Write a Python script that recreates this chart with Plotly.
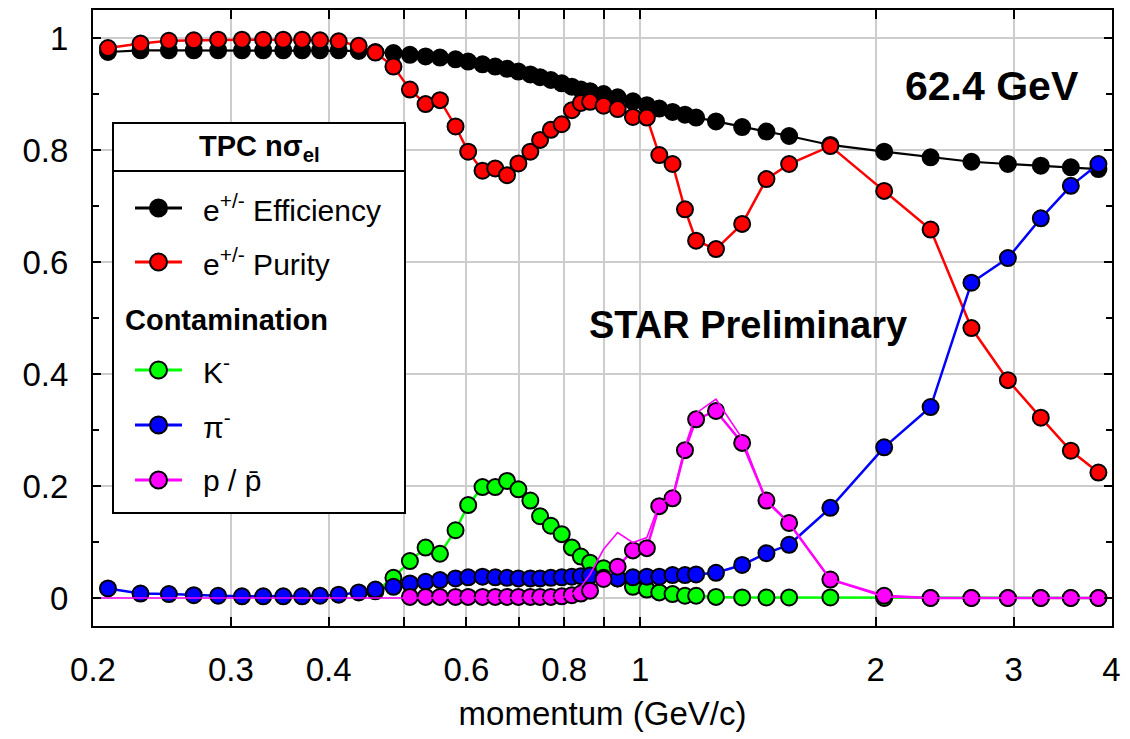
import math
import plotly.graph_objects as go

# ---------------- data ----------------
momentum = [0.209, 0.230, 0.250, 0.269, 0.289, 0.310, 0.330, 0.350, 0.370, 0.390, 0.412,
            0.437, 0.459, 0.484, 0.508, 0.532, 0.555, 0.581, 0.603, 0.629, 0.653, 0.676,
            0.699, 0.724, 0.745, 0.769, 0.794, 0.818, 0.840, 0.863,
            0.898, 0.936, 0.979, 1.020, 1.058, 1.100, 1.141, 1.179,
            1.250, 1.350, 1.450, 1.550,
            1.750, 2.050, 2.350, 2.650, 2.950, 3.250, 3.550, 3.850]

efficiency = [0.975, 0.978, 0.978, 0.978, 0.978, 0.978, 0.978, 0.978, 0.978, 0.978, 0.978,
              0.977, 0.975, 0.973, 0.970, 0.967, 0.965, 0.962, 0.958, 0.953, 0.949, 0.945,
              0.940, 0.935, 0.930, 0.925, 0.919, 0.913, 0.908, 0.905,
              0.900, 0.894, 0.887, 0.880, 0.874, 0.868, 0.863, 0.858,
              0.851, 0.841, 0.833, 0.825,
              0.809, 0.797, 0.787, 0.779, 0.775, 0.772, 0.769, 0.766]

purity = [0.982, 0.990, 0.995, 0.996, 0.997, 0.997, 0.997, 0.997, 0.997, 0.996, 0.994,
          0.986, 0.974, 0.949, 0.908, 0.882, 0.889, 0.842, 0.797, 0.763, 0.767, 0.755,
          0.776, 0.797, 0.818, 0.836, 0.846, 0.871, 0.884, 0.886,
          0.879, 0.873, 0.859, 0.858, 0.791, 0.775, 0.694, 0.638,
          0.623, 0.668, 0.748, 0.775,
          0.807, 0.727, 0.658, 0.482, 0.389, 0.322, 0.263, 0.224]

# kaon markers start at p = 0.459 (index 12 of momentum)
kaon_start = 12
kaon = [0.012, 0.036, 0.066, 0.090, 0.079, 0.121, 0.166, 0.198, 0.198, 0.209,
        0.194, 0.174, 0.146, 0.129, 0.114, 0.090, 0.074, 0.063,
        0.053, 0.035, 0.020, 0.015, 0.010, 0.007, 0.004, 0.004,
        0.002, 0.001, 0.001, 0.001,
        0.001, 0.0, 0.0, 0.0, 0.0, 0.0, 0.0, 0.0]

pion = [0.017, 0.008, 0.007, 0.005, 0.004, 0.003, 0.003, 0.003, 0.003, 0.004, 0.006,
        0.010, 0.015, 0.020, 0.026, 0.029, 0.032, 0.035, 0.037, 0.038, 0.037, 0.036,
        0.035, 0.035, 0.035, 0.036, 0.037, 0.038, 0.039, 0.040,
        0.036, 0.035, 0.037, 0.038, 0.038, 0.041, 0.041, 0.042,
        0.045, 0.059, 0.080, 0.095,
        0.161, 0.269, 0.341, 0.563, 0.607, 0.678, 0.736, 0.775]

# proton markers start at p = 0.508 (index 14 of momentum)
proton_start = 14
proton = [0.002, 0.002, 0.002, 0.002, 0.002, 0.002, 0.002, 0.002,
          0.002, 0.002, 0.002, 0.002, 0.003, 0.005, 0.008, 0.013,
          0.034, 0.056, 0.085, 0.089, 0.164, 0.178, 0.264, 0.319,
          0.334, 0.277, 0.174, 0.134,
          0.033, 0.004, 0.0, 0.0, 0.0, 0.0, 0.0, 0.0]

# thin proton curve (no markers)
proton_thin_p = [0.200] + momentum
proton_thin = [0.0,
               0.0, 0.0, 0.0, 0.0, 0.0, 0.0, 0.0, 0.0, 0.0, 0.0, 0.0,
               0.0, 0.0, 0.0, 0.0, 0.0, 0.0, 0.0, 0.0, 0.0, 0.0, 0.0,
               0.0, 0.0, 0.0, 0.0, 0.0, 0.006, 0.020, 0.042,
               0.087, 0.117, 0.099, 0.108, 0.168, 0.180, 0.270, 0.330,
               0.355, 0.285, 0.172, 0.133,
               0.033, 0.002, 0.0, 0.0, 0.0, 0.0, 0.0, 0.0]

x_tickvals = [0.2, 0.3, 0.4, 0.6, 0.8, 1, 2, 3, 4]
x_ticktext = ["0.2", "0.3", "0.4", "0.6", "0.8", "1", "2", "3", "4"]
x_minor_tickvals = [0.5, 0.7, 0.9]

series_names = ["e<sup>+/-</sup> Efficiency", "e<sup>+/-</sup> Purity",
                "K<sup>-</sup>", "\u03c0<sup>-</sup>", "p / p\u0304"]
series_colors = ["#000000", "#ff0000", "#00ff00", "#0000ff", "#ff00ff"]

# ---------------- figure ----------------
FONT = "Liberation Sans, Arial, Helvetica, sans-serif"
W, H = 1130, 739
ML, MR, MT, MB = 93, 18, 10, 113
PW, PH = W - ML - MR, H - MT - MB


def px(xpix):
    return (xpix - ML) / PW


def py(ypix):
    return (H - MB - ypix) / PH


fig = go.Figure()

mk = dict(size=16, line=dict(color="black", width=2))

fig.add_trace(go.Scatter(x=momentum, y=efficiency, mode="lines+markers",
                         line=dict(color=series_colors[0], width=2.2),
                         marker=dict(color=series_colors[0], **mk), name="eff"))
fig.add_trace(go.Scatter(x=momentum, y=purity, mode="lines+markers",
                         line=dict(color=series_colors[1], width=2.5),
                         marker=dict(color=series_colors[1], **mk), name="pur"))
fig.add_trace(go.Scatter(x=momentum[kaon_start:], y=kaon, mode="lines+markers",
                         line=dict(color=series_colors[2], width=2.5),
                         marker=dict(color=series_colors[2], **mk), name="K"))
fig.add_trace(go.Scatter(x=momentum, y=pion, mode="lines+markers",
                         line=dict(color=series_colors[3], width=2.5),
                         marker=dict(color=series_colors[3], **mk), name="pi"))
fig.add_trace(go.Scatter(x=momentum[proton_start:], y=proton, mode="lines+markers",
                         line=dict(color=series_colors[4], width=2.5),
                         marker=dict(color=series_colors[4], **mk), name="p"))
fig.add_trace(go.Scatter(x=proton_thin_p, y=proton_thin, mode="lines",
                         line=dict(color=series_colors[4], width=1.6), name="p thin"))

# horizontal reference line at 1
fig.add_shape(type="line", xref="paper", yref="y", x0=0, x1=1, y0=1, y1=1,
              line=dict(color="black", width=2), layer="between")

# ---------------- legend box (drawn manually) ----------------
shapes = []
shapes.append(dict(type="rect", xref="paper", yref="paper",
                   x0=px(113), x1=px(405), y0=py(513), y1=py(123),
                   line=dict(color="black", width=2), fillcolor="white", layer="above"))
shapes.append(dict(type="line", xref="paper", yref="paper",
                   x0=px(113), x1=px(405), y0=py(171), y1=py(171),
                   line=dict(color="black", width=2), layer="above"))
row_y = [208, 262, 370, 425, 480]
for name, col, ry in zip(series_names, series_colors, row_y):
    shapes.append(dict(type="line", xref="paper", yref="paper",
                       x0=px(135), x1=px(182), y0=py(ry), y1=py(ry),
                       line=dict(color=col, width=3), layer="above"))
    shapes.append(dict(type="circle", xref="paper", yref="paper",
                       xsizemode="pixel", ysizemode="pixel",
                       xanchor=px(158.5), yanchor=py(ry),
                       x0=-8.5, x1=8.5, y0=-8.5, y1=8.5,
                       fillcolor=col, line=dict(color="black", width=2), layer="above"))
for s in shapes:
    fig.add_shape(**s)

annotations = []
for name, ry in zip(series_names, row_y):
    annotations.append(dict(text=name, xref="paper", yref="paper", x=px(201), y=py(ry),
                            xanchor="left", yanchor="middle", showarrow=False,
                            font=dict(family=FONT, size=30, color="black")))
annotations.append(dict(text="<b>Contamination</b>", xref="paper", yref="paper",
                        x=px(123), y=py(320), xanchor="left", yanchor="middle",
                        showarrow=False, font=dict(family=FONT, size=29, color="black")))
annotations.append(dict(text="<b>TPC n\u03c3<sub>el</sub></b>", xref="paper", yref="paper",
                        x=px(259), y=py(148), xanchor="center", yanchor="middle",
                        showarrow=False, font=dict(family=FONT, size=29, color="black")))
annotations.append(dict(text="<b>62.4 GeV</b>", xref="paper", yref="paper",
                        x=px(992), y=py(86), xanchor="center", yanchor="middle",
                        showarrow=False, font=dict(family=FONT, size=41, color="black")))
annotations.append(dict(text="<b>STAR Preliminary</b>", xref="paper", yref="paper",
                        x=px(748), y=py(325), xanchor="center", yanchor="middle",
                        showarrow=False, font=dict(family=FONT, size=38, color="black")))
fig.update_layout(annotations=annotations)

fig.update_layout(
    width=W, height=H,
    margin=dict(l=ML, r=MR, t=MT, b=MB, pad=0),
    paper_bgcolor="white", plot_bgcolor="white",
    showlegend=False,
    font=dict(family=FONT, color="black"),
    xaxis=dict(
        type="log",
        range=[math.log10(0.2), math.log10(4.007)],
        tickmode="array", tickvals=x_tickvals, ticktext=x_ticktext,
        ticks="inside", ticklen=9, tickwidth=1.5, tickcolor="black",
        minor=dict(tickmode="array", tickvals=x_minor_tickvals, ticks="inside",
                   ticklen=9, tickwidth=1.5, tickcolor="black",
                   showgrid=True, gridcolor="#cdcdcd", gridwidth=1.5),
        showgrid=True, gridcolor="#cdcdcd", gridwidth=1.5,
        showline=True, linewidth=2, linecolor="black", mirror="ticks",
        zeroline=False,
        tickfont=dict(family=FONT, size=33, color="black"),
        ticklabelstandoff=13,
        title=dict(text="momentum (GeV/c)", font=dict(family=FONT, size=33, color="black"),
                   standoff=15),
        automargin=False,
    ),
    yaxis=dict(
        range=[-0.05, 1.05],
        tick0=0, dtick=0.2,
        ticks="inside", ticklen=8, tickwidth=1.5, tickcolor="black",
        minor=dict(dtick=0.1, tick0=0, ticks="inside", ticklen=6, tickwidth=1.5,
                   tickcolor="black", showgrid=False),
        showgrid=True, gridcolor="#cdcdcd", gridwidth=1.5,
        showline=True, linewidth=2, linecolor="black", mirror="ticks",
        zeroline=False,
        tickfont=dict(family=FONT, size=33, color="black"),
        ticklabelstandoff=16,
        automargin=False,
    ),
)

fig.write_html("out.html")
